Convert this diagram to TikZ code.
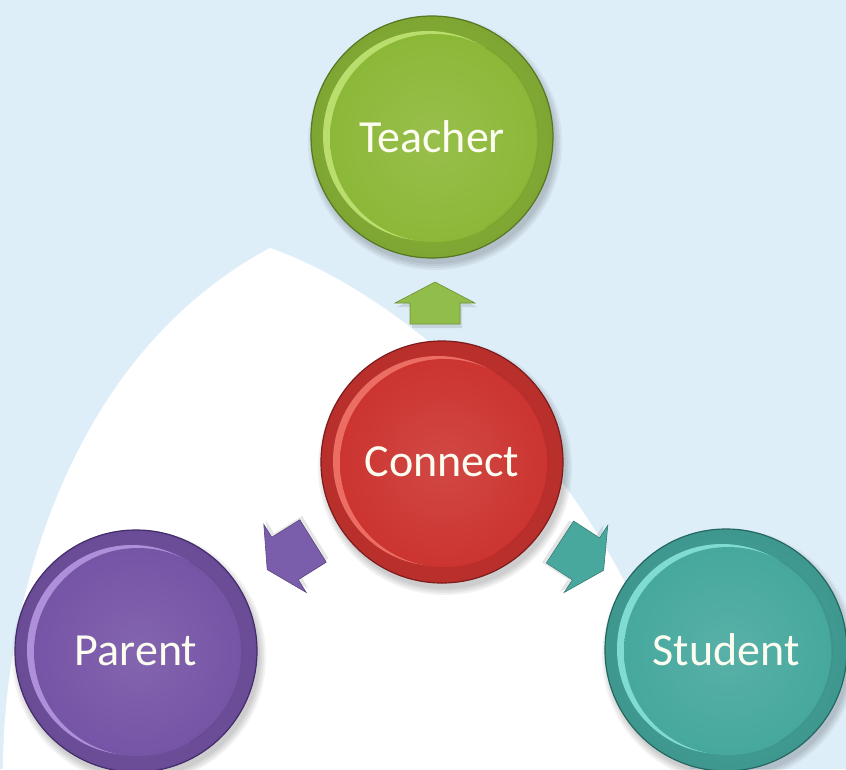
\documentclass[tikz,border=0pt]{standalone}
\usepackage{fontspec}
\setmainfont{Carlito}
\definecolor{bg}{RGB}{222,238,248}
\definecolor{txt}{RGB}{252,252,240}
\definecolor{gmain}{RGB}{140,184,56}
\definecolor{gdark}{RGB}{88,118,36}
\definecolor{glight}{RGB}{196,232,120}
\definecolor{rmain}{RGB}{204,52,48}
\definecolor{rdark}{RGB}{125,28,28}
\definecolor{rlight}{RGB}{245,120,110}
\definecolor{pmain}{RGB}{118,84,166}
\definecolor{pdark}{RGB}{68,44,108}
\definecolor{plight}{RGB}{186,156,230}
\definecolor{tmain}{RGB}{70,168,158}
\definecolor{tdark}{RGB}{36,104,98}
\definecolor{tlight}{RGB}{140,232,222}
\definecolor{agreen}{RGB}{145,190,75}
\definecolor{apurple}{RGB}{122,94,172}
\definecolor{ateal}{RGB}{72,168,158}
\tikzset{
  button/.style n args={3}{circle, minimum size=242pt, inner sep=0pt,
    line width=1.2pt, draw=#2, fill=#1,
    font=\fontsize{46}{50}\selectfont, text=txt,
    path picture={
      \shade[inner color=#1, outer color=#1!90!black]
        (path picture bounding box.center) circle (121pt);
      \fill[#3, opacity=0.85] ([xshift=-4pt,yshift=1pt]path picture bounding box.center) circle (105pt);
      \shade[inner color=#1!90!white, outer color=#1]
        ([xshift=2pt,yshift=-1pt]path picture bounding box.center) circle (104pt);
      \draw[#1!80!black, opacity=0.3, line width=2pt]
        ([xshift=2pt,yshift=-1pt]path picture bounding box.center) ++(60:104pt) arc (60:-60:104pt);
    }},
  bshadow/.style={fill=black, opacity=0.05},
  arrbody/.style={fill=#1, draw=#1!75!black, line width=0.6pt, line join=miter},
  arrshadow/.style={fill=black, opacity=0.10}
}
% block arrow: x, y (tail centre), rotation, colour, length
\newcommand\myarrow[5]{%
  \begin{scope}[shift={(#1,#2)}, rotate=#3]
    \fill[arrshadow, shift={(2,4)}] (-25,0) -- (-25,-#5+21) -- (-40,-#5+21) -- (0,-#5)
      -- (40,-#5+21) -- (25,-#5+21) -- (25,0) -- cycle;
    \filldraw[arrbody=#4] (-25,0) -- (-25,-#5+21) -- (-40,-#5+21) -- (0,-#5)
      -- (40,-#5+21) -- (25,-#5+21) -- (25,0) -- cycle;
  \end{scope}}
\begin{document}
\begin{tikzpicture}[x=1pt,y=-1pt]
\useasboundingbox (0,0) rectangle (846,769);
\fill[bg] (0,0) rectangle (846,769);
% white arch
\fill[white] (3,769) .. controls (3,620) and (60,360) .. (270,248)
  .. controls (420,300) and (640,500) .. (690,769) -- cycle;
% soft shadows of buttons
\foreach \cx/\cy in {432/137, 442/462, 136/651, 726/650}{
  \foreach \k in {0,2,4,6}{
    \fill[bshadow] (\cx+3,\cy+6) circle ({121pt+\k pt});
  }
}
% arrows
\myarrow{435}{324}{0}{agreen}{42}
\myarrow{313}{541}{122}{apurple}{54}
\myarrow{560}{542}{-123}{ateal}{52}
% buttons
\node[button={gmain}{gdark}{glight}] (teacher) at (432,137) {Teacher};
\node[button={rmain}{rdark}{rlight}] (connect) at (442,462) {Connect};
\node[button={pmain}{pdark}{plight}] (parent) at (136,651) {Parent};
\node[button={tmain}{tdark}{tlight}] (student) at (726,650) {Student};
\end{tikzpicture}
\end{document}
